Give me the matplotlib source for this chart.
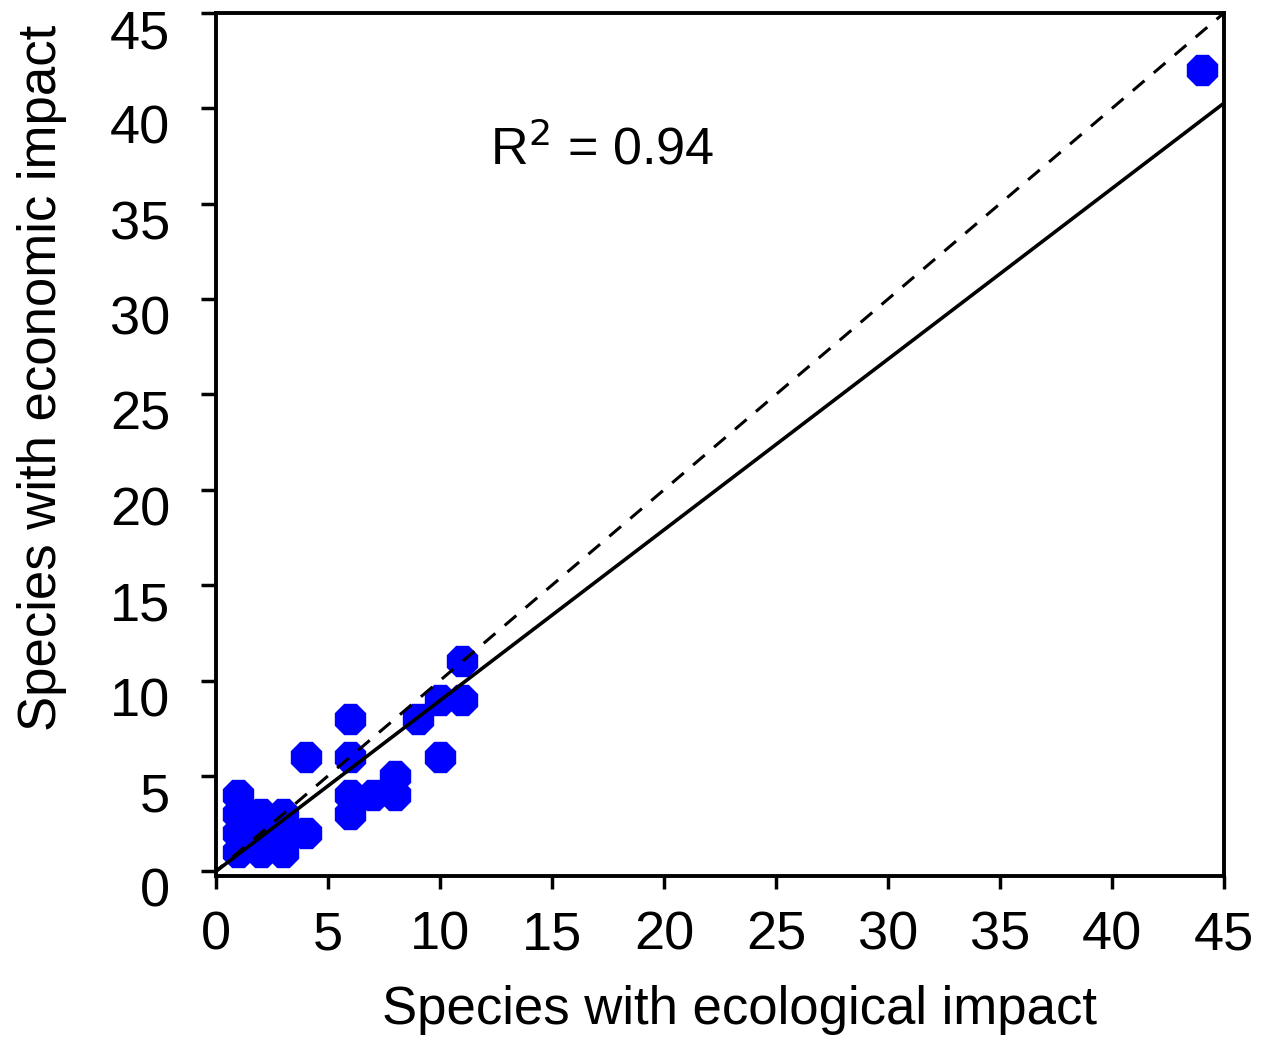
import numpy as np
import matplotlib
matplotlib.use("Agg")
import matplotlib.pyplot as plt
from matplotlib.transforms import ScaledTranslation

# Data
ecological = [1, 2, 3, 1, 2, 3, 4, 1, 2, 3, 1, 6, 6, 7, 8, 8, 4, 6, 10, 6, 9, 10, 11, 11, 44]
economic   = [1, 1, 1, 2, 2, 2, 2, 3, 3, 3, 4, 3, 4, 4, 4, 5, 6, 6, 6, 8, 8, 9, 9, 11, 42]
fit_slope = 0.895
fit_intercept = 0.0
x_ticks = [0, 5, 10, 15, 20, 25, 30, 35, 40, 45]
y_ticks = [0, 5, 10, 15, 20, 25, 30, 35, 40, 45]
r2_text = "R$^2$ = 0.94"
xlabel = "Species with ecological impact"
ylabel = "Species with economic impact"

plt.rcParams['font.family'] = ['Liberation Sans', 'DejaVu Sans']

fig = plt.figure(figsize=(12.64, 10.38), dpi=100)
ax = fig.add_axes([216/1264, 162/1038, (1224-216)/1264, (876-13)/1038])

x = np.array(ecological, dtype=float)
y = np.array(economic, dtype=float)
xx = np.array([0, 45])
ax.plot([-0.2, 45], [-0.2, 45], linestyle=(0, (5, 4)), color='black', lw=2.2, zorder=3)
ax.plot(xx, fit_slope * xx + fit_intercept, color='black', lw=2.6, zorder=3)
ax.plot(x, y, linestyle='none', marker='8', markersize=23, color='#0000FF',
        markeredgecolor='#0000FF', zorder=2)

ax.set_xlim(0, 45)
ax.set_ylim(-0.25, 45)
ax.set_xticks(x_ticks)
ax.set_yticks(y_ticks)
ax.tick_params(axis='both', direction='out', width=2.5, labelsize=39, colors='black')
ax.tick_params(axis='x', length=9, pad=16)
ax.tick_params(axis='y', length=11, pad=22)
for sp in ax.spines.values():
    sp.set_linewidth(2.8)

off = ScaledTranslation(0, -16/100, fig.dpi_scale_trans)
for lab in ax.get_yticklabels():
    lab.set_transform(lab.get_transform() + off)

fig.text(490/1264, 1 - 150/1038, r2_text, fontsize=37.5, va='center', ha='left')
fig.text(740/1264, 1 - 1010/1038, xlabel, fontsize=38, va='center', ha='center')
fig.text(42/1264, 1 - 378/1038, ylabel, fontsize=38, va='center', ha='center', rotation=90)

fig.savefig('out.png', dpi=100, facecolor='white')
